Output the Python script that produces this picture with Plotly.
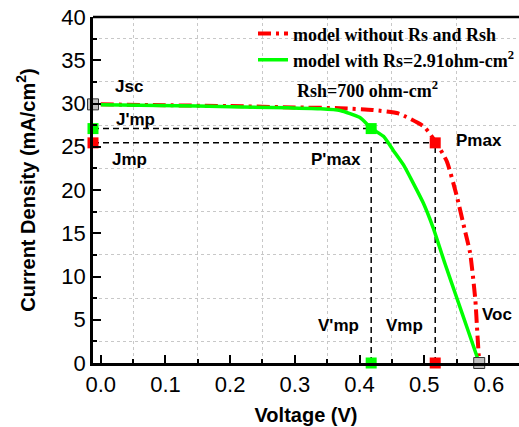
import plotly.graph_objects as go

# ---- data ----
v_ideal = [0, 0.1, 0.2, 0.3, 0.37, 0.42, 0.46, 0.5, 0.519, 0.535, 0.55, 0.562, 0.571, 0.579, 0.582, 0.585]
j_ideal = [29.9, 29.8, 29.7, 29.55, 29.45, 29.25, 28.85, 27.3, 25.4, 23.3, 19.4, 15.6, 12.7, 7.3, 3.6, 0]

v_real = [0, 0.15, 0.29, 0.34, 0.37, 0.40, 0.419, 0.437, 0.452, 0.468, 0.483, 0.4986, 0.514, 0.532, 0.55, 0.568, 0.585]
j_real = [29.85, 29.7, 29.5, 29.4, 29.2, 28.4, 27.1, 26.2, 24.6, 22.9, 20.8, 18.5, 15.6, 11.5, 7.6, 3.7, 0]

jsc = 29.9
voc = 0.585
vmp, jmp = 0.517, 25.45      # without Rs/Rsh
vmp2, jmp2 = 0.418, 27.1     # with Rs/Rsh

x_range = [-0.012, 0.6465]
y_range = [0, 40]
x0 = x_range[0]

label_text = ["Jsc", "J'mp", "Jmp", "P'max", "Pmax", "V'mp", "Vmp", "Voc"]
label_x = [0.044, 0.053, 0.045, 0.363, 0.585, 0.367, 0.470, 0.613]
label_y = [32.0, 28.1, 23.5, 23.55, 25.7, 4.3, 4.3, 5.55]

RED = "#ff0000"
GREEN = "#00ff00"
GRAY = "#c0c0c0"

fig = go.Figure()

# dashed guide lines
guide = dict(color="black", width=1.5, dash="6px,4px")
fig.add_trace(go.Scatter(x=[x0, vmp2], y=[jmp2, jmp2], mode="lines", line=guide, showlegend=False, hoverinfo="skip"))
fig.add_trace(go.Scatter(x=[x0, vmp], y=[jmp, jmp], mode="lines", line=guide, showlegend=False, hoverinfo="skip"))
fig.add_trace(go.Scatter(x=[vmp2, vmp2], y=[0, jmp], mode="lines", line=guide, showlegend=False, hoverinfo="skip"))
fig.add_trace(go.Scatter(x=[vmp, vmp], y=[0, jmp], mode="lines", line=guide, showlegend=False, hoverinfo="skip"))

# curves
fig.add_trace(go.Scatter(x=v_ideal, y=j_ideal, mode="lines", name="model without Rs and Rsh",
                         line=dict(color=RED, width=4, dash="13px,5px,3px,5px", shape="spline", smoothing=0.5)))
fig.add_trace(go.Scatter(x=v_real, y=j_real, mode="lines", name="model with Rs=2.91ohm-cm<sup>2</sup>",
                         line=dict(color=GREEN, width=3.5, shape="spline", smoothing=0.5)))

# markers
sq = dict(symbol="square", size=11)
fig.add_trace(go.Scatter(x=[x0, vmp, vmp], y=[jmp, jmp, 0], mode="markers",
                         marker=dict(color=RED, **sq), showlegend=False, cliponaxis=False))
fig.add_trace(go.Scatter(x=[x0, vmp2, vmp2], y=[jmp2, jmp2, 0], mode="markers",
                         marker=dict(color=GREEN, **sq), showlegend=False, cliponaxis=False))
fig.add_trace(go.Scatter(x=[x0, voc], y=[jsc, 0], mode="markers",
                         marker=dict(color=GRAY, line=dict(color="#333333", width=1), **sq),
                         showlegend=False, cliponaxis=False))

for t, x, y in zip(label_text, label_x, label_y):
    fig.add_annotation(x=x, y=y, text=f"<b>{t}</b>", showarrow=False,
                       font=dict(family="Liberation Sans, Arial", size=17, color="black"))

fig.add_annotation(xref="paper", yref="paper", x=0.474, y=0.79, xanchor="left", yanchor="middle",
                   text="Rsh=700 ohm-cm<sup>2</sup>", showarrow=False,
                   font=dict(family="Liberation Serif, Times New Roman", size=18, color="black", weight="bold"))

# top border
fig.add_shape(type="line", xref="paper", yref="paper", x0=0, x1=1, y0=1, y1=1,
              line=dict(color="black", width=2.5))

axis_common = dict(showline=True, linecolor="black", linewidth=2.5, ticks="inside", ticklen=8,
                   tickwidth=2, tickcolor="black", showgrid=False, zeroline=False, automargin=False,
                   tickfont=dict(family="Liberation Sans, Arial", size=22, color="black"))

fig.update_xaxes(range=x_range, dtick=0.1, tick0=0, tickformat=".1f",
                 title=dict(text="<b>Voltage (V)</b>", standoff=12,
                            font=dict(family="Liberation Sans, Arial", size=20, color="black")),
                 minor=dict(tick0=0.05, dtick=0.1, ticks="inside", ticklen=4, tickwidth=2, tickcolor="black",
                            showgrid=True, gridcolor="#c8c8c8", griddash="dot", gridwidth=1),
                 **axis_common)
fig.update_yaxes(range=y_range, dtick=5, tick0=0,
                 title=dict(text="<b>Current Density (mA/cm<sup>2</sup>)</b>", standoff=21,
                            font=dict(family="Liberation Sans, Arial", size=20, color="black")),
                 minor=dict(tick0=2.5, dtick=5, ticks="inside", ticklen=4, tickwidth=2, tickcolor="black",
                            showgrid=True, gridcolor="#c8c8c8", griddash="dot", gridwidth=1),
                 **axis_common)

fig.update_layout(
    width=519, height=427,
    margin=dict(l=93, r=0, t=17, b=64, autoexpand=False),
    plot_bgcolor="white", paper_bgcolor="white",
    showlegend=True,
    legend=dict(x=0.3756, y=1.005, xanchor="left", yanchor="top", bgcolor="rgba(0,0,0,0)",
                font=dict(family="Liberation Serif, Times New Roman", size=18, color="black", weight="bold"),
                tracegroupgap=0, itemwidth=30),
)

fig.write_html("out.html", config={"displayModeBar": False},
               post_script="document.body.style.margin='0';document.body.style.overflow='hidden';")
